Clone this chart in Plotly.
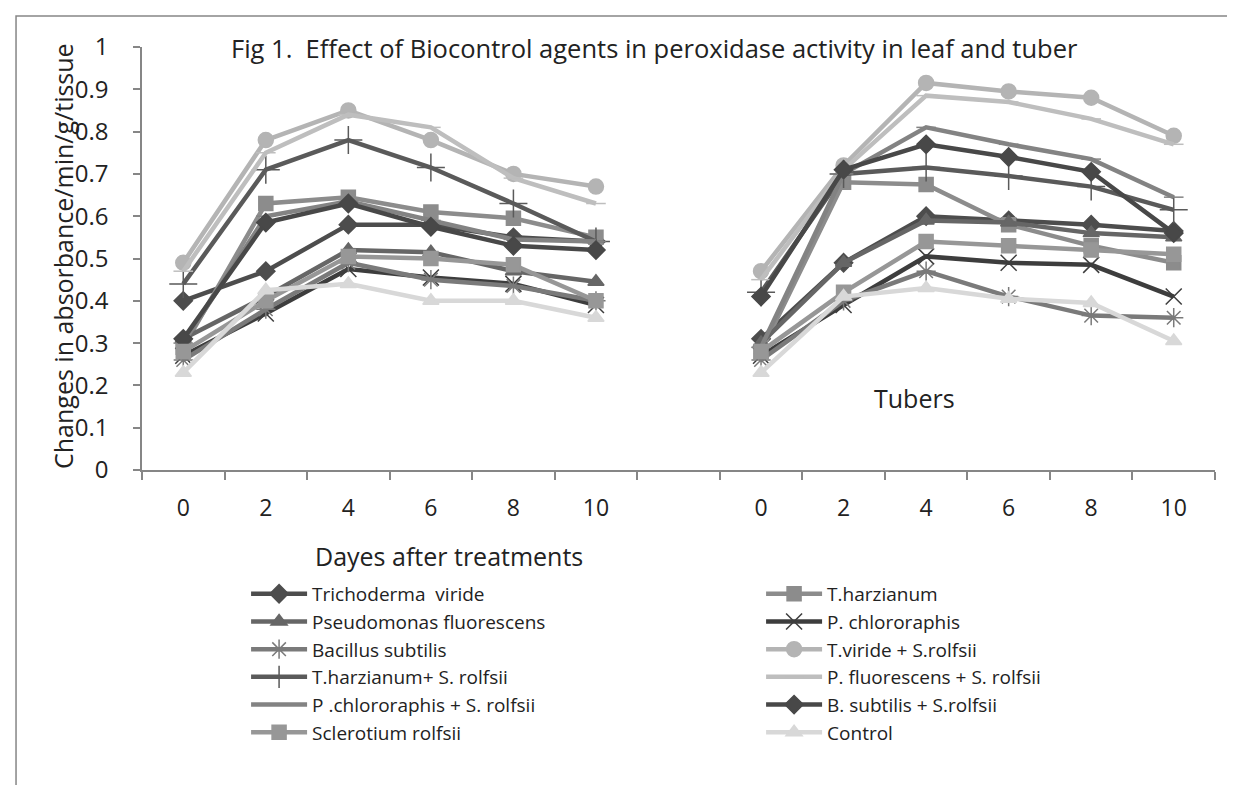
import plotly.graph_objects as go

days = [0, 2, 4, 6, 8, 10]

names = ["Trichoderma\u00a0 viride", "T.harzianum", "Pseudomonas fluorescens", "P. chlororaphis",
         "Bacillus subtilis", "T.viride + S.rolfsii", "T.harzianum+ S. rolfsii",
         "P. fluorescens + S. rolfsii", "P .chlororaphis + S. rolfsii", "B. subtilis + S.rolfsii",
         "Sclerotium rolfsii", "Control"]

# leaf values (left group)
leaf_t_viride = [0.40, 0.47, 0.58, 0.58, 0.55, 0.54]
leaf_t_harz = [0.29, 0.63, 0.645, 0.61, 0.595, 0.55]
leaf_p_fluor = [0.31, 0.41, 0.52, 0.515, 0.47, 0.445]
leaf_p_chlor = [0.27, 0.37, 0.475, 0.455, 0.44, 0.39]
leaf_b_sub = [0.26, 0.38, 0.49, 0.45, 0.435, 0.40]
leaf_tv_sr = [0.49, 0.78, 0.85, 0.78, 0.70, 0.67]
leaf_th_sr = [0.44, 0.71, 0.78, 0.715, 0.63, 0.54]
leaf_pf_sr = [0.47, 0.75, 0.84, 0.81, 0.69, 0.63]
leaf_pc_sr = [0.30, 0.60, 0.635, 0.59, 0.545, 0.54]
leaf_bs_sr = [0.31, 0.585, 0.63, 0.575, 0.53, 0.52]
leaf_s_rolf = [0.28, 0.40, 0.505, 0.50, 0.485, 0.40]
leaf_control = [0.23, 0.425, 0.44, 0.40, 0.40, 0.36]

# tuber values (right group)
tub_t_viride = [0.31, 0.49, 0.60, 0.59, 0.58, 0.565]
tub_t_harz = [0.28, 0.68, 0.675, 0.58, 0.53, 0.49]
tub_p_fluor = [0.30, 0.49, 0.59, 0.585, 0.56, 0.55]
tub_p_chlor = [0.27, 0.39, 0.505, 0.49, 0.485, 0.41]
tub_b_sub = [0.26, 0.40, 0.47, 0.41, 0.365, 0.36]
tub_tv_sr = [0.47, 0.72, 0.915, 0.895, 0.88, 0.79]
tub_th_sr = [0.42, 0.70, 0.715, 0.695, 0.67, 0.615]
tub_pf_sr = [0.45, 0.71, 0.885, 0.87, 0.83, 0.77]
tub_pc_sr = [0.29, 0.70, 0.81, 0.77, 0.735, 0.645]
tub_bs_sr = [0.41, 0.71, 0.77, 0.74, 0.705, 0.56]
tub_s_rolf = [0.28, 0.42, 0.54, 0.53, 0.52, 0.51]
tub_control = [0.23, 0.41, 0.43, 0.405, 0.395, 0.305]

leaf = [leaf_t_viride, leaf_t_harz, leaf_p_fluor, leaf_p_chlor, leaf_b_sub, leaf_tv_sr,
        leaf_th_sr, leaf_pf_sr, leaf_pc_sr, leaf_bs_sr, leaf_s_rolf, leaf_control]
tuber = [tub_t_viride, tub_t_harz, tub_p_fluor, tub_p_chlor, tub_b_sub, tub_tv_sr,
         tub_th_sr, tub_pf_sr, tub_pc_sr, tub_bs_sr, tub_s_rolf, tub_control]

colors = ["#4d4d4d", "#8c8c8c", "#666666", "#3d3d3d", "#7a7a7a", "#b4b4b4",
          "#5a5a5a", "#bebebe", "#838383", "#484848", "#979797", "#d8d8d8"]
symbols = ["diamond", "square", "triangle-up", "x-thin-open", "asterisk-open", "circle",
           "cross-thin-open", "line-ew-open", "line-ew-open", "diamond", "square", "triangle-up"]
sizes = [14, 14, 14, 16, 16, 15, 20, 14, 14, 14, 14, 14]

# one category slot left empty between the leaf and tuber groups
xpos = list(range(len(days))) + [len(days)] + [len(days) + 1 + i for i in range(len(days))]
ticktext = [str(d) for d in days] + [""] + [str(d) for d in days]

fig = go.Figure()
for i in range(len(names)):
    yv = leaf[i] + [None] + tuber[i]
    fig.add_trace(go.Scatter(
        x=xpos, y=yv, name=names[i], mode="lines+markers",
        line=dict(color=colors[i], width=4.5),
        marker=dict(symbol=symbols[i], size=sizes[i], color=colors[i],
                    line=dict(color=colors[i], width=1.5)),
        connectgaps=False))

fig.update_layout(
    width=1235, height=785,
    margin=dict(l=134, r=28, t=39, b=323, autoexpand=False),
    paper_bgcolor="white", plot_bgcolor="white",
    font=dict(family="Open Sans", size=20, color="#222222"),
    showlegend=True,
    legend=dict(orientation="h", x=0.097, y=-0.248, xanchor="left", yanchor="top",
                entrywidth=444, entrywidthmode="pixels", itemwidth=56,
                font=dict(family="Open Sans", size=19, color="#222222"),
                bgcolor="rgba(0,0,0,0)"),
    xaxis=dict(range=[-0.5, len(xpos) - 0.5], tickmode="array", tickvals=xpos, ticktext=ticktext,
               ticks="", showline=True, linecolor="#868686", linewidth=1.5, showgrid=False,
               zeroline=False, ticklabelstandoff=17, tickfont=dict(size=23),
               minor=dict(ticks="outside", ticklen=8, tickcolor="#868686", tickwidth=1.5,
                          tick0=-0.5, dtick=1, showgrid=False)),
    yaxis=dict(range=[0, 1], dtick=0.1, ticks="outside", ticklen=7, tickcolor="#868686",
               tickwidth=1.5, showline=True, linecolor="#868686", linewidth=1.5,
               showgrid=False, zeroline=False, tickfont=dict(size=24), ticklabelstandoff=20),
)

fig.add_annotation(text="Fig 1.\u00a0 Effect of Biocontrol agents in peroxidase activity in leaf and tuber",
                   xref="paper", yref="paper", x=0.478, y=0.998, xanchor="center", yanchor="middle",
                   showarrow=False, font=dict(size=25.5))
fig.add_annotation(text="Tubers", xref="paper", yref="paper", x=(906 - 134) / 1073, y=0.170,
                   xanchor="center", yanchor="middle", showarrow=False, font=dict(size=25))
fig.add_annotation(text="Changes in absorbance/min/g/tissue", xref="paper", yref="paper",
                   x=-0.0736, y=0.506, xanchor="center", yanchor="middle", textangle=-90,
                   showarrow=False, font=dict(size=25))
fig.add_annotation(text="Dayes after treatments", xref="paper", yref="paper",
                   x=(305 - 134) / 1073, xanchor="left", y=(462 - 548) / 423, yanchor="middle",
                   showarrow=False, font=dict(size=25))

fig.add_shape(type="rect", xref="paper", yref="paper", x0=-0.1174, x1=1.0196, y0=-0.80, y1=1.073,
              line=dict(color="#868686", width=1.5), fillcolor="rgba(0,0,0,0)", layer="below")

fig.write_html("out.html")
